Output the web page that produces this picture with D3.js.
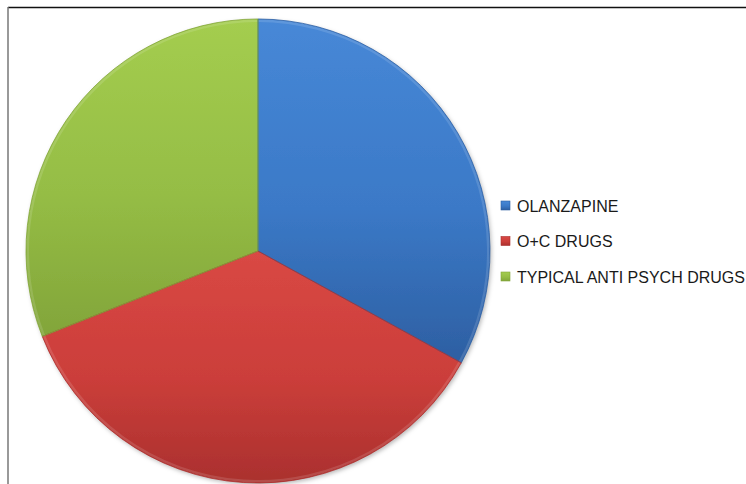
<!DOCTYPE html>
<html>
<head>
<meta charset="utf-8">
<script src="https://cdn.jsdelivr.net/npm/d3@7"></script>
<style>
  html, body { margin: 0; padding: 0; background: #fff; }
  svg { display: block; }
</style>
</head>
<body>
<svg id="chart" width="746" height="484"></svg>
<script>
// Treatment groups and their share of patients
const categories = ["OLANZAPINE", "O+C DRUGS", "TYPICAL ANTI PSYCH DRUGS"];
const values = [33, 36, 31];
const baseColors = ["#3b79c7", "#cb3e3a", "#95bd45"];
const lightColors = ["#4788d7", "#d94844", "#a4cd4f"];
const darkColors = ["#2d5fa2", "#aa302e", "#82a53a"];

const svg = d3.select("#chart");
const W = 746, H = 484;

const defs = svg.append("defs");

// soft shadow around the pie
const sh = defs.append("filter").attr("id", "shadow")
  .attr("x", "-10%").attr("y", "-10%").attr("width", "120%").attr("height", "120%");
sh.append("feDropShadow").attr("dx", 1.5).attr("dy", 2).attr("stdDeviation", 2)
  .attr("flood-color", "#000").attr("flood-opacity", 0.28);

// vertical gradient per slice
categories.forEach((c, i) => {
  const g = defs.append("linearGradient").attr("id", "grad" + i)
    .attr("x1", 0).attr("y1", 0).attr("x2", 0).attr("y2", 1);
  g.append("stop").attr("offset", "0%").attr("stop-color", lightColors[i]);
  g.append("stop").attr("offset", "55%").attr("stop-color", baseColors[i]);
  g.append("stop").attr("offset", "100%").attr("stop-color", darkColors[i]);
});

// chart frame
svg.append("line").attr("x1", 8).attr("y1", 7.5).attr("x2", W).attr("y2", 7.5)
  .attr("stroke", "#111").attr("stroke-width", 1.5);
svg.append("line").attr("x1", 8).attr("y1", 7).attr("x2", 8).attr("y2", H)
  .attr("stroke", "#777").attr("stroke-width", 1.5);

const cx = 258, cy = 251, r = 232;

const pie = d3.pie().sort(null).value(d => d);
const arcs = pie(values);
const arc = d3.arc().innerRadius(0).outerRadius(r);
const rimArc = d3.arc().innerRadius(r - 3).outerRadius(r - 0.5);

const g = svg.append("g").attr("transform", `translate(${cx},${cy})`);

g.append("g").attr("filter", "url(#shadow)")
  .selectAll("path").data(arcs).join("path")
  .attr("d", arc)
  .attr("fill", (d, i) => `url(#grad${i})`);

// bevel: light rim along the outer edge and darker slice seams
g.selectAll("path.rim").data(arcs).join("path").attr("class", "rim")
  .attr("d", rimArc)
  .attr("fill", "#fff").attr("opacity", 0.13);

g.selectAll("path.edge").data(arcs).join("path").attr("class", "edge")
  .attr("d", arc)
  .attr("fill", "none")
  .attr("stroke", (d, i) => darkColors[i])
  .attr("stroke-width", 1)
  .attr("stroke-opacity", 0.8);

// legend
const legend = svg.append("g").attr("transform", "translate(501,201)");
const item = legend.selectAll("g").data(categories).join("g")
  .attr("transform", (d, i) => `translate(0,${i * 35.5})`);
item.append("rect").attr("width", 9).attr("height", 9)
  .attr("fill", (d, i) => `url(#grad${i})`)
  .attr("stroke", (d, i) => darkColors[i]).attr("stroke-width", 0.6);
const labels = item.append("text")
  .attr("font-family", "'Liberation Sans', Arial, sans-serif")
  .attr("font-size", 16.5)
  .attr("fill", "#1a1a1a")
  .text(d => d);

// condensed lettering: squeeze horizontally so the longest label spans 228px
const widest = d3.max(labels.nodes(), n => n.getComputedTextLength());
const sx = 228 / widest;
labels.attr("transform", `translate(16,10.5) scale(${sx},1)`);
</script>
</body>
</html>
